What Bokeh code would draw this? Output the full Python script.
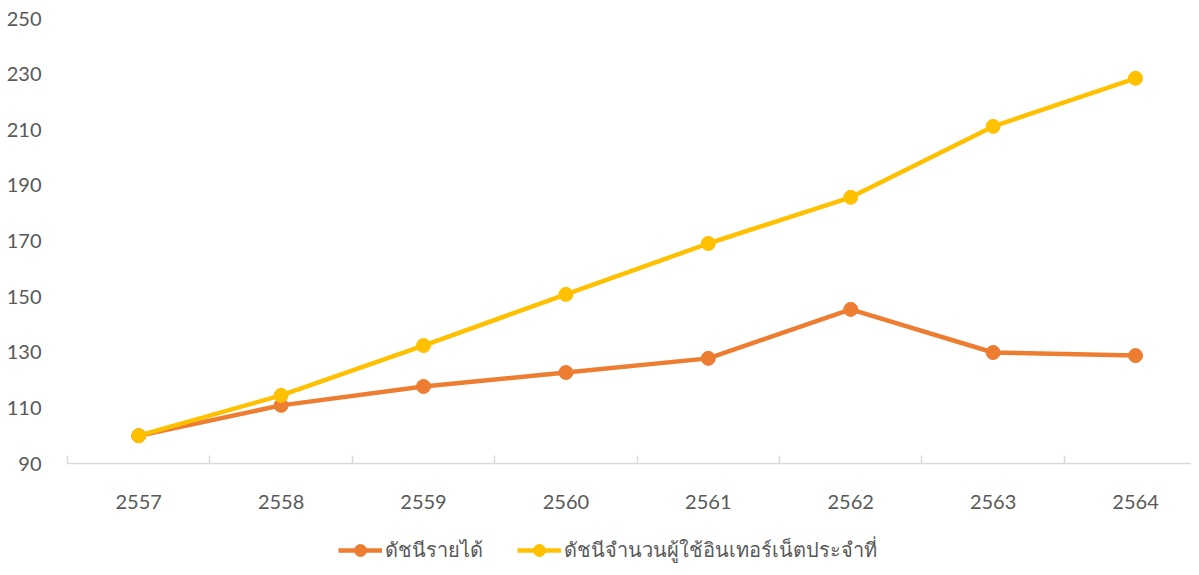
from bokeh.plotting import figure
from bokeh.models import FixedTicker, Legend, LegendItem, Range1d, ColumnDataSource
from bokeh.layouts import column
from bokeh.embed import file_html
from bokeh.resources import INLINE

years = ["2557", "2558", "2559", "2560", "2561", "2562", "2563", "2564"]
income_index = [100.0, 110.9, 117.7, 122.7, 127.8, 145.4, 129.9, 128.8]
internet_index = [100.0, 114.5, 132.4, 150.8, 169.1, 185.7, 211.2, 228.5]
series_names = ["ดัชนีรายได้", "ดัชนีจำนวนผู้ใช้อินเทอร์เน็ตประจำที่"]
y_ticks = [90, 110, 130, 150, 170, 190, 210, 230, 250]

xs = list(range(len(years)))
orange = "#ED7D31"
yellow = "#FFC000"
gray_text = "#595959"
font = "Lato"

p = figure(frame_width=1124, frame_height=445,
           output_backend="svg", toolbar_location=None,
           x_range=Range1d(-0.5, 7.393), y_range=Range1d(90, 250),
           min_border_left=67, min_border_right=0, min_border_top=18, min_border_bottom=0)
p.outline_line_color = None
p.grid.visible = False

src1 = ColumnDataSource(dict(x=xs, y=income_index))
src2 = ColumnDataSource(dict(x=xs, y=internet_index))
p.line("x", "y", source=src1, line_color=orange, line_width=4.5)
p.scatter("x", "y", source=src1, size=14, fill_color=orange, line_color=orange)
p.line("x", "y", source=src2, line_color=yellow, line_width=4.5)
p.scatter("x", "y", source=src2, size=14, fill_color=yellow, line_color=yellow)

xa = p.xaxis[0]
xa.ticker = FixedTicker(ticks=xs, minor_ticks=[i - 0.5 for i in range(len(years) + 1)])
xa.major_label_overrides = {i: y for i, y in enumerate(years)}
xa.major_tick_line_color = None
xa.major_tick_in = 0
xa.major_tick_out = 0
xa.minor_tick_line_color = "#D9D9D9"
xa.minor_tick_in = 8
xa.minor_tick_out = 0
xa.minor_tick_line_width = 1.5
xa.axis_line_color = "#D9D9D9"
xa.axis_line_width = 1.5
xa.major_label_standoff = 31
xa.major_label_text_font = font
xa.major_label_text_font_size = "20px"
xa.major_label_text_color = gray_text

ya = p.yaxis[0]
ya.ticker = FixedTicker(ticks=y_ticks)
ya.axis_line_color = None
ya.major_tick_line_color = None
ya.major_tick_in = 0
ya.major_tick_out = 0
ya.minor_tick_line_color = None
ya.major_label_standoff = 26
ya.major_label_text_font = font
ya.major_label_text_font_size = "20px"
ya.major_label_text_color = gray_text

# legend strip below the chart (legend renderers sit outside the visible range)
lf = figure(width=1191, height=55, output_backend="svg", toolbar_location=None,
            x_range=Range1d(0, 1), y_range=Range1d(0, 1),
            x_axis_location=None, y_axis_location=None,
            min_border_left=0, min_border_right=0, min_border_top=0, min_border_bottom=0)
lf.outline_line_color = None
lf.grid.visible = False
e1 = ColumnDataSource(dict(x=[-5.0], y=[-5.0]))
e2 = ColumnDataSource(dict(x=[-5.0], y=[-5.0]))
g1 = lf.line("x", "y", source=e1, line_color=orange, line_width=4.5)
s1 = lf.scatter("x", "y", source=e1, size=14, fill_color=orange, line_color=orange)
g2 = lf.line("x", "y", source=e2, line_color=yellow, line_width=4.5)
s2 = lf.scatter("x", "y", source=e2, size=14, fill_color=yellow, line_color=yellow)

legend = Legend(items=[LegendItem(label=series_names[0], renderers=[g1, s1]),
                       LegendItem(label=series_names[1], renderers=[g2, s2])],
                orientation="horizontal", location=(271, 0),
                glyph_width=44, glyph_height=30, label_height=20, label_standoff=3, spacing=34,
                label_text_font="Noto Sans", label_text_font_size="20px",
                label_text_color=gray_text, border_line_color=None,
                background_fill_alpha=0, margin=0, padding=0)
lf.add_layout(legend, "center")

layout = column(p, lf, spacing=0)
open("out.html", "w").write(file_html(layout, INLINE))
